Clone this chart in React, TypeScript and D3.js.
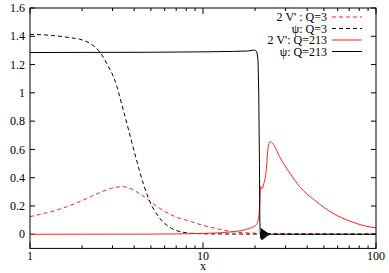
import React from 'react';
import * as d3 from 'd3';

// 2 V' : Q=3
const vQ3X = [1, 1.39, 1.9, 2.48, 2.96, 3.38, 3.78, 4.41, 5.5, 6.87, 8.57, 9.78, 12.5, 14.8, 20, 30, 50, 100];
const vQ3Y = [0.125, 0.167, 0.226, 0.29, 0.325, 0.337, 0.325, 0.278, 0.191, 0.125, 0.089, 0.066, 0.035, 0.018, 0.008, 0.005, 0.004, 0.003];

// psi : Q=3
const psiQ3X = [1, 1.2, 1.49, 1.7, 1.94, 2.22, 2.54, 2.8, 3.09, 3.46, 3.78, 4.13, 4.51, 4.93, 5.63, 6.57, 7.67, 9, 12, 20, 50, 100];
const psiQ3Y = [1.414, 1.41, 1.4, 1.39, 1.379, 1.35, 1.287, 1.2, 1.091, 0.879, 0.702, 0.525, 0.361, 0.231, 0.113, 0.042, 0.014, 0.005, 0.002, 0.001, 0, 0];

// 2 V' : Q=213
const vQ213X = [1, 5, 10, 14.9, 18.6, 20.3, 21.0, 21.3, 21.5, 21.9, 22.5, 23.2, 23.7, 24.4, 25.3, 27.7, 31.8, 36.2, 45.2, 56.4, 70.3, 93.6, 100];
const vQ213Y = [0, 0.001, 0.006, 0.018, 0.042, 0.066, 0.125, 0.22, 0.337, 0.322, 0.36, 0.45, 0.596, 0.655, 0.643, 0.549, 0.431, 0.337, 0.231, 0.148, 0.094, 0.05, 0.045];

// psi : Q=213
const psiQ213X = [1, 5, 10, 15, 18.1, 19.9, 20.5, 20.8, 21.0, 21.2, 21.3, 21.4,
  21.6, 21.75, 21.9, 22.05, 22.2, 22.35, 22.5, 22.65, 22.8, 22.95, 23.1, 23.3, 23.5, 23.7, 23.9, 24.1, 24.3, 24.5, 25, 30, 100];
const psiQ213Y = [1.285, 1.287, 1.29, 1.293, 1.296, 1.303, 1.29, 1.23, 1.0, 0.5, 0.1, 0.02,
  -0.03, 0.04, -0.04, 0.035, -0.035, 0.03, -0.03, 0.025, -0.025, 0.02, -0.02, 0.015, -0.012, 0.01, -0.008, 0.006, -0.004, 0.002, 0, 0, 0];

const yTicks = [0, 0.2, 0.4, 0.6, 0.8, 1, 1.2, 1.4, 1.6];
const xMajor = [1, 10, 100];
const xMinor = [2, 3, 4, 5, 6, 7, 8, 9, 20, 30, 40, 50, 60, 70, 80, 90];

const legendLabels = ["2 V' : Q=3", 'ψ: Q=3', "2 V': Q=213", 'ψ: Q=213'];

const W = 389;
const H = 273;
const left = 30;
const right = 376;
const top = 8;
const bottom = 248.4;

const App: React.FC = () => {
  const x = d3.scaleLog().domain([1, 100]).range([left, right]);
  const y = d3.scaleLinear().domain([-0.1, 1.6]).range([bottom, top]);

  const mk = (xs: number[], ys: number[], curve: d3.CurveFactory) =>
    d3.line<number>()
      .x((_, i) => x(xs[i]))
      .y((d) => y(d))
      .curve(curve)(ys) || '';

  const series = [
    { d: mk(vQ3X, vQ3Y, d3.curveMonotoneX), color: '#ff2020', dash: '4,3' },
    { d: mk(psiQ3X, psiQ3Y, d3.curveMonotoneX), color: '#000000', dash: '4,3' },
    { d: mk(vQ213X, vQ213Y, d3.curveMonotoneX), color: '#ff2020', dash: undefined },
    { d: mk(psiQ213X, psiQ213Y, d3.curveLinear), color: '#000000', dash: undefined },
  ];

  const font = '"Liberation Serif", "Times New Roman", serif';

  return (
    <svg width={W} height={H} style={{ position: 'absolute', left: 0, top: 0, fontFamily: font }}>
      <rect x={0} y={0} width={W} height={H} fill="#fff" />
      <g stroke="#000" strokeWidth={1}>
        {yTicks.map((t) => (
          <g key={'y' + t}>
            <line x1={left} x2={left + 5} y1={y(t)} y2={y(t)} />
            <line x1={right} x2={right - 5} y1={y(t)} y2={y(t)} />
          </g>
        ))}
        {xMajor.map((t) => (
          <g key={'xm' + t}>
            <line x1={x(t)} x2={x(t)} y1={bottom} y2={bottom - 6} />
            <line x1={x(t)} x2={x(t)} y1={top} y2={top + 6} />
          </g>
        ))}
        {xMinor.map((t) => (
          <g key={'xn' + t}>
            <line x1={x(t)} x2={x(t)} y1={bottom} y2={bottom - 3} />
            <line x1={x(t)} x2={x(t)} y1={top} y2={top + 3} />
          </g>
        ))}
      </g>
      {series.map((s, i) => (
        <path key={i} d={s.d} fill="none" stroke={s.color} strokeWidth={1} strokeDasharray={s.dash} />
      ))}
      <rect x={left} y={top} width={right - left} height={bottom - top} fill="none" stroke="#000" strokeWidth={1} />
      <g style={{ fontFamily: font, fontSize: '12px' }} fill="#000">
        {yTicks.map((t) => (
          <text key={'yl' + t} x={25} y={y(t)} dy="0.35em" textAnchor="end">{d3.format('~g')(t)}</text>
        ))}
        {xMajor.map((t) => (
          <text key={'xl' + t} x={x(t)} y={260} textAnchor="middle">{t}</text>
        ))}
        <text x={(left + right) / 2} y={270} textAnchor="middle">x</text>
      </g>
      <g style={{ fontFamily: font, fontSize: '12px' }}>
        {series.map((s, i) => {
          const ly = 17 + i * 11.5;
          return (
            <g key={'lg' + i}>
              <text x={327} y={ly} dy="0.35em" textAnchor="end" fill="#000">{legendLabels[i]}</text>
              <line x1={332} x2={362} y1={ly} y2={ly} stroke={s.color} strokeWidth={1} strokeDasharray={s.dash} />
            </g>
          );
        })}
      </g>
    </svg>
  );
};

export default App;
